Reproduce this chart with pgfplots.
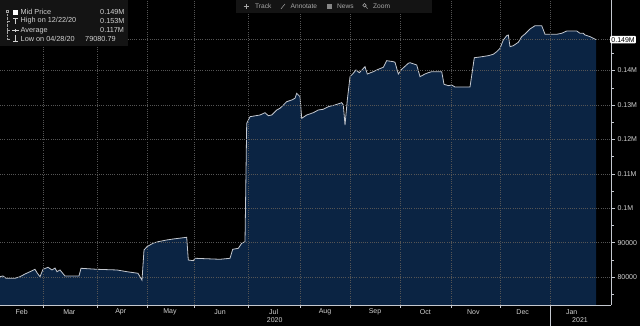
\documentclass[border=0pt]{standalone}
\usepackage{pgfplots}
\usepackage{pgfplotstable}
\pgfplotsset{compat=1.18}
\usepackage{fontspec}
\setmainfont{Liberation Sans}
\definecolor{bgnavy}{HTML}{0B2443}
\definecolor{linec}{HTML}{C4C8CF}
\definecolor{gridc}{HTML}{555555}
\definecolor{txt}{HTML}{D2D2D2}
\definecolor{boxc}{HTML}{141414}
\definecolor{toolt}{HTML}{A8A8A8}

\pgfplotstableread{
x y
0 80090
3 80300
6 79650
15 79620
20 80090
25 80870
30 81540
35 82240
37 81250
40 80090
43 82240
48 82820
52 82040
55 82600
57 81540
60 82040
65 80290
79 80290
81 82530
97 82240
117 82040
127 81540
138 81080
142 79080
144 87850
147 88810
153 89800
158 90260
166.7 90760
173.3 91050
186.7 91540
188.3 84940
193.3 84740
195 85440
220 85150
230 85440
232.7 88050
238.3 88340
241.7 89800
245 90260
246.7 124680
250 126600
260 127090
265 127760
268.3 126890
271.7 127090
276.7 128550
280 129040
286.7 130960
291.7 131450
295 131950
296.7 133400
300 132410
301.7 126130
306.7 127090
313.3 127760
318.3 128550
323.3 128750
328.3 129510
335 130000
341.7 130670
343.3 130000
345 124190
347.3 131450
350 138230
353.3 139220
356 140180
359.3 139390
365 141130
367.3 139010
373.3 139680
378.3 140380
383.3 140960
386.7 142880
393.3 142590
395 142410
398.3 139010
401.7 140380
408.3 142120
410 142300
416.7 141630
420 138230
425 139010
428.3 139390
431.7 139680
441.7 139680
444 136020
448.3 135620
451.7 135810
455 135230
470 135230
474.3 143750
480 143950
488.3 144330
493.3 144740
496.7 145500
500 146480
503.3 148900
506.7 150150
508.3 150350
510 146950
513.3 147240
518.3 148230
521.7 149860
525 150640
530 152090
535 153050
541.7 153050
545 150550
556.7 150550
561.7 150840
566.7 151510
576.7 151510
580 150840
583.3 150840
585 150350
590 149860
596 149000
}\pricedata

\begin{document}
\begin{tikzpicture}[x=1bp,y=1bp]
\fill[black] (0,0) rectangle (640,326);
\useasboundingbox (0,0) rectangle (640,326);
\begin{axis}[
  at={(0bp,21bp)}, anchor=south west,
  scale only axis, width=611bp, height=305bp,
  xmin=0, xmax=611, ymin=71860, ymax=160520,
  axis x line=bottom, axis y line=right,
  axis line style={-, draw=linec, line width=0.6bp},
  clip=true,
  axis on top,
  tick align=outside,
  major tick length=4bp, minor tick length=2.5bp,
  tick style={draw=linec, line width=0.5bp},
  xtick={21.7,69.3,120.7,170,220,273.7,325,375,425.3,473.3,522.7,571.7},
  xticklabels={Feb,Mar,Apr,May,Jun,Jul,Aug,Sep,Oct,Nov,Dec,Jan},
  major x tick style={draw=none},
  minor xtick={43,97,147,194,248,300,350,400,451,500,550},
  xminorgrids=true, xmajorgrids=false,
  ytick={80000,90000,100000,110000,120000,130000,140000},
  yticklabels={80000,90000,0.1M,0.11M,0.12M,0.13M,0.14M},
  minor ytick={75000,85000,95000,105000,115000,125000,135000,145000},
  ymajorgrids=true,
  grid style={dash pattern=on 0.7bp off 1.5bp, gridc, line width=0.45bp},
  minor grid style={dash pattern=on 0.7bp off 1.5bp, gridc, line width=0.45bp},
  major grid style={dash pattern=on 0.7bp off 1.5bp, gridc, line width=0.45bp},
  tick label style={font=\fontsize{7bp}{8bp}\selectfont, text=txt},
  /pgf/number format/assume math mode=true,
  scaled y ticks=false,
  xticklabel style={anchor=center, yshift=-3bp},
  yticklabel style={anchor=west, xshift=-1bp},
  extra y ticks={149000},
  extra y tick labels={0.149M},
  extra y tick style={major tick length=0pt, yticklabel style={fill=white, text=black, inner sep=1.2bp, rounded corners=1bp}},
]
\addplot[fill=bgnavy, draw=none] table[x=x,y=y] {\pricedata} \closedcycle;
\addplot[linec, line width=0.8bp] table[x=x,y=y] {\pricedata};
\end{axis}

\begin{scope}[shift={(0bp,326bp)}, x=1bp, y=-1bp]
  % year separator & years
  \draw[linec, line width=0.5bp] (550,305) -- (550,326);
  \node[font=\fontsize{7bp}{8bp}\selectfont, text=txt, inner sep=0] at (274.7,320.5) {2020};
  \node[font=\fontsize{7bp}{8bp}\selectfont, text=txt, inner sep=0] at (580,320.5) {2021};
  % legend box
  \fill[boxc] (0,0) rectangle (128,46);
  \draw[gray!70, line width=0.4bp] (6,10) rectangle (8.5,12.5);
  \draw[gray!70, densely dotted, line width=0.4bp] (7.2,12.5) -- (7.2,39);
  \foreach \yy in {21,30.3,39} {\draw[gray!70, line width=0.4bp] (7.2,\yy) -- (10,\yy);}
  \fill[white] (13,9.8) rectangle (17.8,14.6);
  \draw[txt, line width=0.5bp] (13,18) -- (18,18) (15.5,18) -- (15.5,24);
  \draw[txt, line width=0.5bp] (12,30.3) -- (19,30.3) (15.5,29) -- (15.5,31.6);
  \draw[txt, line width=0.5bp] (15.5,35.5) -- (15.5,41.5) (13,41.5) -- (18,41.5);
  \begin{scope}[every node/.style={font=\fontsize{7.3bp}{8.5bp}\selectfont, text=txt, inner sep=0, anchor=west}]
    \node at (20.5,12.3) {Mid Price};
    \node at (20.5,21) {High on 12/22/20};
    \node at (20.5,30.3) {Average};
    \node at (20.5,39) {Low on 04/28/20};
    \node at (100,12.3) {0.149M};
    \node at (100,21) {0.153M};
    \node at (100,30.3) {0.117M};
    \node at (85,39) {79080.79};
  \end{scope}
  % toolbar
  \fill[boxc] (236,0) rectangle (432,13);
  \begin{scope}[every node/.style={font=\fontsize{6.6bp}{8bp}\selectfont, text=toolt, inner sep=0, anchor=west}]
    \draw[toolt, line width=0.5bp] (243.5,6.3) -- (248.5,6.3) (246,3.8) -- (246,8.8);
    \node at (255,6.3) {Track};
    \draw[toolt, line width=0.5bp] (281,8.8) -- (285,4);
    \node at (290.5,6.3) {Annotate};
    \fill[toolt!80!black] (327,4.2) rectangle (331.5,8.6);
    \node at (337,6.3) {News};
    \draw[toolt, line width=0.5bp] (364.5,5.3) circle (1.8) (365.8,6.6) -- (367.6,8.6);
    \node at (373,6.3) {Zoom};
  \end{scope}
\end{scope}
\end{tikzpicture}
\end{document}
